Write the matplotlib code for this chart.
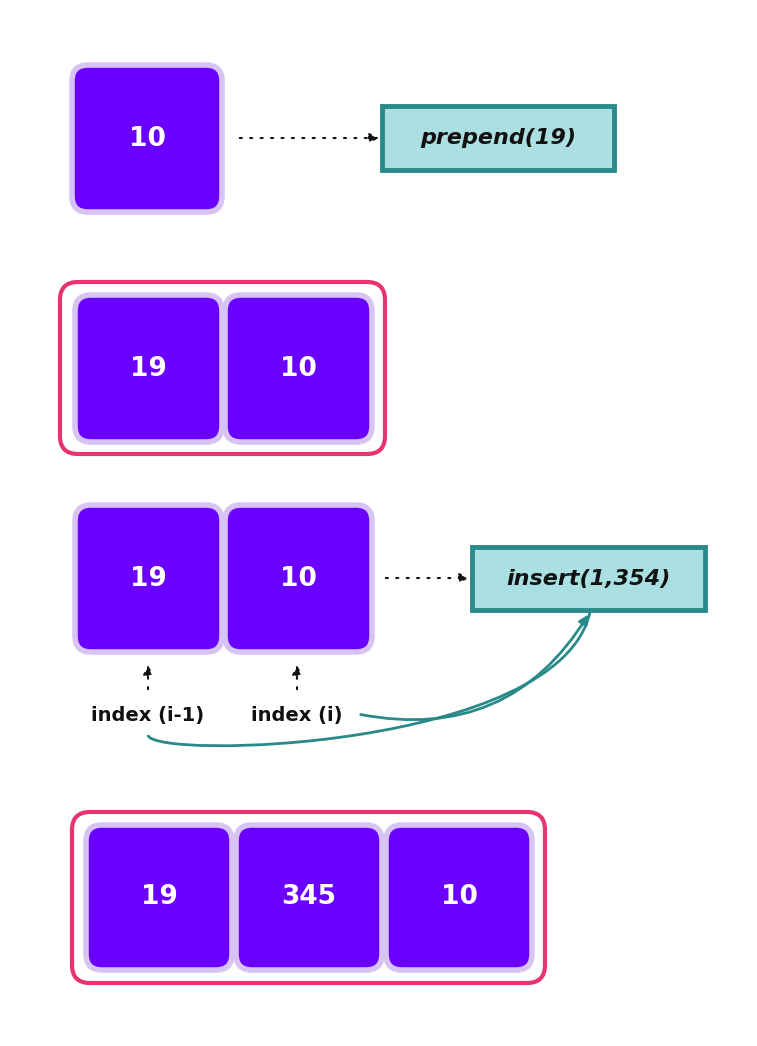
import matplotlib
matplotlib.use("Agg")
import matplotlib.pyplot as plt
from matplotlib.patches import FancyBboxPatch, FancyArrowPatch, Path, PathPatch

row1_values = ["10"]
row2_values = ["19", "10"]
row3_values = ["19", "10"]
row4_values = ["19", "345", "10"]
op_labels = ["prepend(19)", "insert(1,354)"]
index_labels = ["index (i-1)", "index (i)"]

W, H = 757, 1046
fig = plt.figure(figsize=(W/100, H/100), dpi=100)
ax = fig.add_axes([0, 0, 1, 1])
ax.set_xlim(0, W); ax.set_ylim(H, 0); ax.axis("off")

PURPLE = "#6a00ff"; LAV = "#d8c4f2"; PINK = "#e8336d"; TEAL = "#2a8a8a"; CYAN = "#abe0e3"

def cell(x0, y0, x1, y1, txt):
    ax.add_patch(FancyBboxPatch((x0, y0), x1-x0, y1-y0, boxstyle="round,pad=0,rounding_size=16",
                                fc=PURPLE, ec=LAV, lw=4, zorder=3))
    ax.text((x0+x1)/2, (y0+y1)/2, txt, color="white", fontsize=19, fontweight="bold",
            ha="center", va="center", zorder=4)

def frame(x0, y0, x1, y1):
    ax.add_patch(FancyBboxPatch((x0, y0), x1-x0, y1-y0, boxstyle="round,pad=0,rounding_size=18",
                                fc="white", ec=PINK, lw=3, zorder=2))

def op(x0, y0, x1, y1, txt):
    ax.add_patch(FancyBboxPatch((x0, y0), x1-x0, y1-y0, boxstyle="square,pad=0",
                                fc=CYAN, ec=TEAL, lw=3.5, zorder=3))
    ax.text((x0+x1)/2, (y0+y1)/2, txt, color="#111111", fontsize=16, fontweight="bold",
            style="italic", ha="center", va="center", zorder=4)

def dotted_arrow(x0, y0, x1, y1):
    ax.add_patch(FancyArrowPatch((x0, y0), (x1, y1), arrowstyle="-|>", mutation_scale=14,
                                 color="#111111", lw=1.5, linestyle=(0, (1, 4)), zorder=3))

# Row 1
cell(72, 65, 222, 212, row1_values[0])
dotted_arrow(237, 138, 382, 138)
op(382, 106, 614, 170, op_labels[0])

# Row 2
frame(60, 282, 385, 454)
for i, v in enumerate(row2_values):
    cell(75 + i*150, 295, 222 + i*150, 442, v)

# Row 3
for i, v in enumerate(row3_values):
    cell(75 + i*150, 505, 222 + i*150, 652, v)
dotted_arrow(383, 578, 472, 578)
op(472, 547, 705, 610, op_labels[1])
for x, lab in zip([148, 297], index_labels):
    dotted_arrow(x, 692, x, 662)
    ax.text(x, 716, lab, fontsize=14, fontweight="bold", color="#111111", ha="center", va="center")

# Teal curves
ax.add_patch(FancyArrowPatch((358, 714), (590, 612), connectionstyle="arc3,rad=0.35",
                             arrowstyle="-|>", mutation_scale=14, color=TEAL, lw=2, zorder=3))
verts = [(148, 735), (150, 760), (560, 750), (590, 612)]
ax.add_patch(PathPatch(Path(verts, [Path.MOVETO, Path.CURVE4, Path.CURVE4, Path.CURVE4]),
                       fc="none", ec=TEAL, lw=2, zorder=3))

# Row 4
frame(72, 812, 545, 983)
for i, v in enumerate(row4_values):
    cell(86 + i*150, 825, 232 + i*150, 970, v)

fig.savefig("out.png", dpi=100)
